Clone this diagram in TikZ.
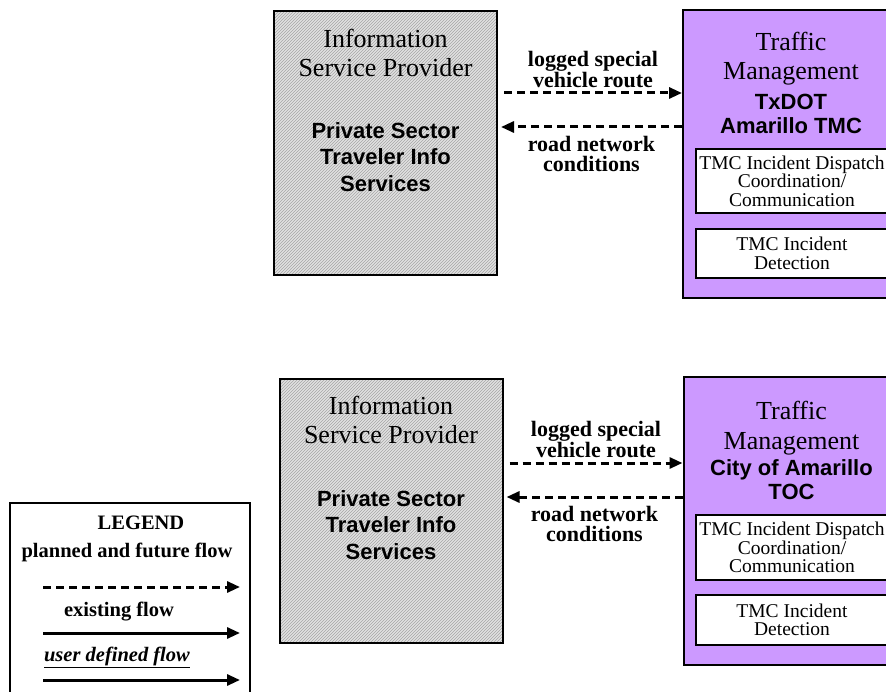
\documentclass[tikz,border=0pt]{standalone}
\usepackage{fontspec}
\setmainfont{Liberation Serif}
\setsansfont{Liberation Sans}
\usepackage{xcolor}
\usepackage{tikz}
\usetikzlibrary{arrows.meta, positioning, patterns, calc}
\definecolor{tmpurple}{RGB}{204,153,255}
\definecolor{ispgray}{RGB}{226,226,226}
\definecolor{hatchgray}{RGB}{165,165,165}
\tikzset{
  ispbox/.style={rectangle, draw=black, line width=2pt,
    minimum width=223pt, minimum height=264pt, inner sep=0pt,
    preaction={fill=ispgray}, pattern=north east lines, pattern color=hatchgray},
  tmbox/.style={rectangle, draw=black, line width=2pt, fill=tmpurple,
    minimum width=216pt, minimum height=288pt, inner sep=0pt},
  subbox/.style={rectangle, draw=black, line width=1.8pt, fill=white,
    minimum width=192pt, inner sep=0pt, align=center,
    font=\fontsize{19.5}{18.5}\selectfont},
  headtxt/.style={align=center, inner sep=0pt, font=\fontsize{26}{29.5}\selectfont},
  nametxt/.style={align=center, inner sep=0pt, font=\sffamily\bfseries\fontsize{22}{24.5}\selectfont},
  flowtxt/.style={align=center, inner sep=0pt, font=\bfseries\fontsize{22}{20}\selectfont},
  planned/.style={-{Triangle[length=13pt,width=11pt]}, line width=3pt, dash pattern=on 8pt off 5pt},
  existing/.style={-{Triangle[length=13pt,width=11pt]}, line width=3pt}
}

\begin{document}
\begin{tikzpicture}[x=1pt, y=-1pt,
  legbox/.style={rectangle, draw=black, line width=2pt, fill=white,
    minimum width=240pt, minimum height=200pt, inner sep=0pt},
  legtxt/.style={inner sep=0pt, font=\bfseries\fontsize{20.5}{22}\selectfont}
]
\useasboundingbox (0,0) rectangle (886,692);

%--- TOP: TxDOT Amarillo TMC ---
\node[ispbox] (ispA) at (385.5,143) {};
\node[headtxt] (ispAhead) at (385.5,53) {Information\\Service Provider};
\node[nametxt, font=\sffamily\bfseries\fontsize{22}{26.5}\selectfont] (ispAname) at (385.5,157) {Private Sector\\Traveler Info\\Services};

\node[tmbox] (tmA) at (791,154.5) {};
\node[headtxt] (tmAhead) at (791,58.5) {Traffic\\Management};
\node[nametxt] (tmAname) at (791,114) {TxDOT\\Amarillo TMC};
\node[subbox, minimum height=64pt] (dispA) at (792,181) {TMC Incident Dispatch\\Coordination/\\Communication};
\node[subbox, minimum height=49pt] (detA) at (792,253.5) {TMC Incident\\Detection};

\draw[planned] ([yshift=50pt, xshift=6pt]ispA.east) -- ([yshift=50pt]ispA.east -| tmA.west)
  node[flowtxt, midway, above=4pt] (flowA1) {logged special\\vehicle route};
\draw[planned] ([yshift=16pt]ispA.east -| tmA.west) -- ([yshift=16pt, xshift=3pt]ispA.east)
  node[flowtxt, midway, below=8pt] (flowA2) {road network\\conditions};

%--- BOTTOM: City of Amarillo TOC ---
\node[ispbox] (ispB) at (391,511) {};
\node[headtxt] (ispBhead) at (391,420) {Information\\Service Provider};
\node[nametxt, font=\sffamily\bfseries\fontsize{22}{26.5}\selectfont] (ispBname) at (391,525) {Private Sector\\Traveler Info\\Services};

\node[tmbox] (tmB) at (791.5,521) {};
\node[headtxt] (tmBhead) at (791.5,428) {Traffic\\Management};
\node[nametxt] (tmBname) at (791.5,479.5) {City of Amarillo\\TOC};
\node[subbox, minimum height=65pt] (dispB) at (792,547.5) {TMC Incident Dispatch\\Coordination/\\Communication};
\node[subbox, minimum height=50pt] (detB) at (792,620) {TMC Incident\\Detection};

\draw[planned] ([yshift=48pt, xshift=6pt]ispB.east) -- ([yshift=48pt]ispB.east -| tmB.west)
  node[flowtxt, midway, above=4pt] (flowB1) {logged special\\vehicle route};
\draw[planned] ([yshift=14pt]ispB.east -| tmB.west) -- ([yshift=14pt, xshift=3pt]ispB.east)
  node[flowtxt, midway, below=8pt] (flowB2) {road network\\conditions};

%--- LEGEND ---
\node[legbox] (legend) at (130,603) {};
\node[legtxt] (legTitle) at (141,523) {LEGEND};
\node[legtxt] (legPlanned) at (127,552) {planned and future flow};
\node[legtxt] (legExisting) at (119,612) {existing flow};
\node[legtxt] (legUser) at (117,657) {\underline{\textit{user defined flow}}};
\coordinate (lgPa) at (43,587);
\coordinate (lgPb) at (240,587);
\coordinate (lgEa) at (43,633);
\coordinate (lgEb) at (240,633);
\coordinate (lgUa) at (43,680);
\coordinate (lgUb) at (240,680);
\draw[planned] (lgPa) -- (lgPb);
\draw[existing] (lgEa) -- (lgEb);
\draw[existing] (lgUa) -- (lgUb);
\end{tikzpicture}
\end{document}
